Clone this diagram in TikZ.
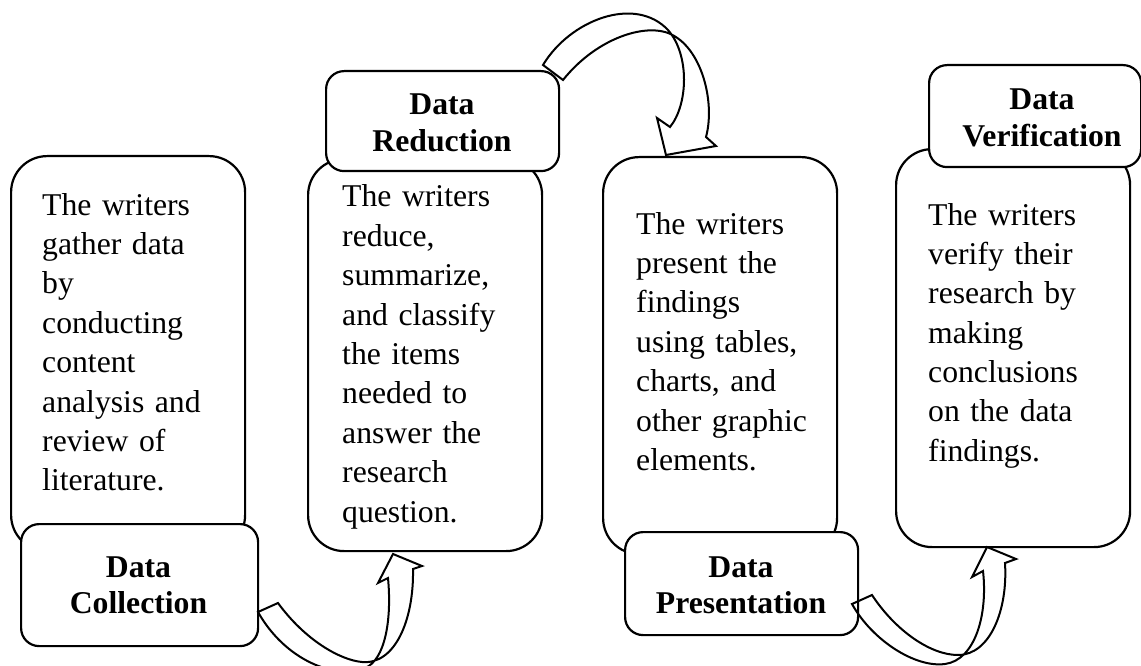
\documentclass[tikz,border=0pt]{standalone}
\usepackage{fontspec}
\setmainfont{Liberation Serif}
\begin{document}
\begin{tikzpicture}[x=1pt,y=-1pt,
  panel/.style={draw, line width=2.2pt, rounded corners=36pt, fill=white,
    inner sep=0pt, anchor=north west, minimum width=234pt},
  tag/.style={draw, line width=2.2pt, rounded corners=18pt, fill=white,
    inner sep=0pt, anchor=north west},
  body/.style={anchor=base west, inner sep=0pt, text width=220pt, align=left,
    font=\fontsize{31.7}{39.4}\selectfont},
  title/.style={anchor=base, inner sep=0pt, text width=230pt, align=center,
    font=\fontsize{31.7}{36.3}\selectfont\bfseries},
  ribbon/.style={draw, line width=2pt, line join=miter}
]
\clip (0,0) rectangle (1141,666);
\fill[white] (0,0) rectangle (1141,666);

% tall description panels
\node[panel, minimum height=395pt] (p1) at (10,155) {};
\node[panel, minimum height=392pt] (p2) at (307,158) {};
\node[panel, minimum height=397pt] (p3) at (602,156) {};
\node[panel, minimum height=398pt] (p4) at (895,148) {};

% stage tags
\node[tag, minimum width=237pt, minimum height=122pt] (g1) at (20,523) {};
\node[tag, minimum width=233pt, minimum height=100pt] (g2) at (325,70) {};
\node[tag, minimum width=233pt, minimum height=103pt] (g3) at (624,531) {};
\node[tag, minimum width=212pt, minimum height=102pt] (g4) at (928,64) {};

% panel texts
\node[body] (t1) at (42,215) {The writers\\gather data\\by\\conducting\\content\\analysis and\\review of\\literature.};
\node[body] (t2) at (342,207) {The writers\\reduce,\\summarize,\\and classify\\the items\\needed to\\answer the\\research\\question.};
\node[body] (t3) at (636,234) {The writers\\present the\\findings\\using tables,\\charts, and\\other graphic\\elements.};
\node[body] (t4) at (928,225) {The writers\\verify their\\research by\\making\\conclusions\\on the data\\findings.};

% tag texts
\node[title] (s1) at (138.5,577) {Data\\Collection};
\node[title] (s2) at (442,115) {Data\\Reduction};
\node[title] (s3) at (741,577) {Data\\Presentation};
\node[title] (s4) at (1042,110) {Data\\Verification};

% curved ribbon arrow: Collection -> Reduction
\coordinate (a1tl) at (258,612);
\coordinate (a1tu) at (278,603);
\coordinate (a1lo) at (365,668);
\coordinate (a1up) at (362,662);
\coordinate (a1is) at (388,578);
\coordinate (a1lb) at (378,583);
\coordinate (a1tip) at (393,554);
\coordinate (a1rb) at (422,566);
\coordinate (a1os) at (413,569);
\draw[ribbon] (a1tl) .. controls (285,660) and (335,680) .. (a1lo)
  .. controls (385,660) and (392,620) .. (a1is) -- (a1lb) -- (a1tip) -- (a1rb) -- (a1os)
  .. controls (414,620) and (395,665) .. (a1up)
  .. controls (340,660) and (305,640) .. (a1tu) -- cycle;

% curved ribbon arrow: Reduction -> Presentation
\coordinate (a2a) at (543,65);
\coordinate (a2b) at (563,80);
\coordinate (a2hi) at (668,30);
\coordinate (a2lo) at (665,32);
\coordinate (a2is) at (670,127);
\coordinate (a2lb) at (657,118);
\coordinate (a2tip) at (666,155);
\coordinate (a2rb) at (716,146);
\coordinate (a2os) at (706,137);
\draw[ribbon] (a2a) .. controls (570,20) and (635,-5) .. (a2hi)
  .. controls (690,55) and (688,105) .. (a2is) -- (a2lb) -- (a2tip) -- (a2rb) -- (a2os)
  .. controls (716,100) and (700,42) .. (a2lo)
  .. controls (640,25) and (595,40) .. (a2b) -- cycle;

% curved ribbon arrow: Presentation -> Verification
\coordinate (a3tl) at (852,604);
\coordinate (a3tu) at (872,595);
\coordinate (a3lo) at (945,664);
\coordinate (a3up) at (958,655);
\coordinate (a3is) at (983,571);
\coordinate (a3lb) at (972,577);
\coordinate (a3tip) at (987,547);
\coordinate (a3rb) at (1016,559);
\coordinate (a3os) at (1005,563);
\draw[ribbon] (a3tl) .. controls (872,640) and (915,668) .. (a3lo)
  .. controls (975,660) and (988,615) .. (a3is) -- (a3lb) -- (a3tip) -- (a3rb) -- (a3os)
  .. controls (1008,610) and (990,655) .. (a3up)
  .. controls (930,655) and (895,630) .. (a3tu) -- cycle;
\end{tikzpicture}
\end{document}
